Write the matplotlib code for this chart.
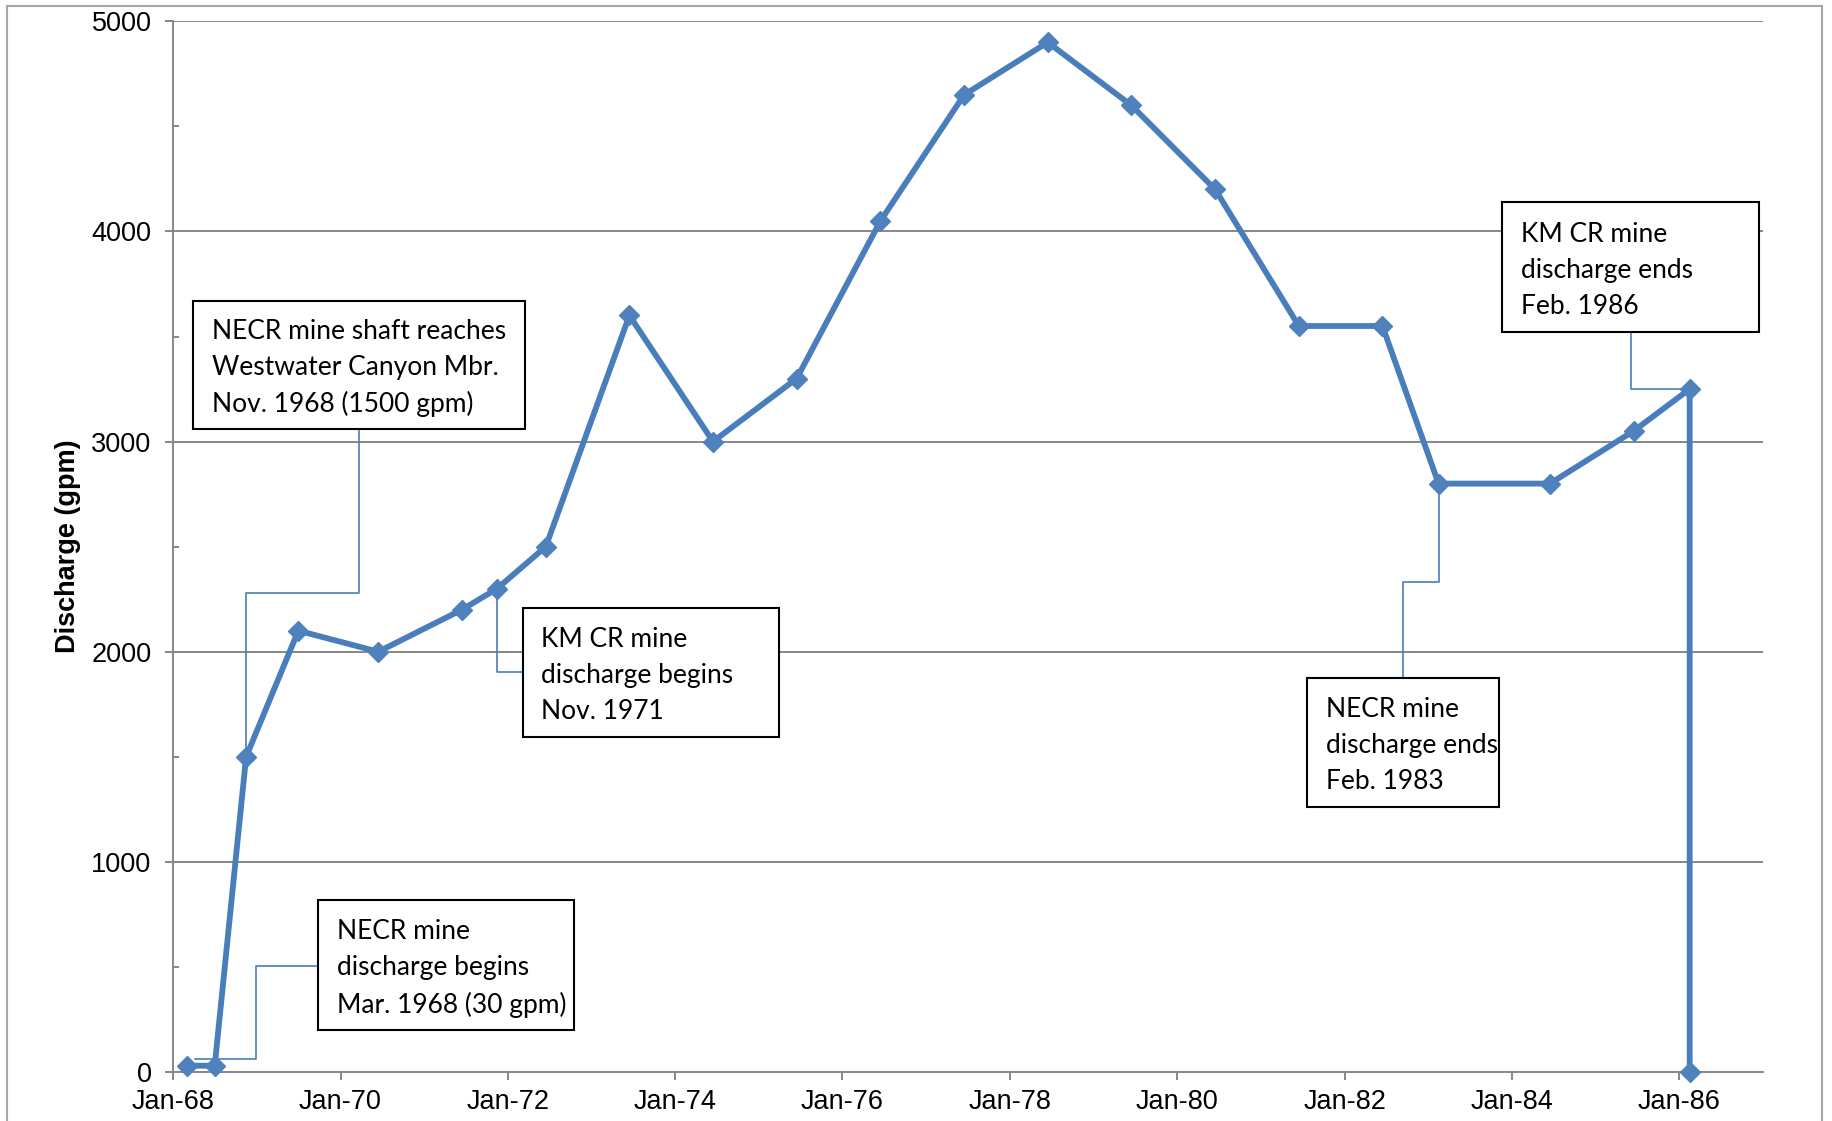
import numpy as np
import pandas as pd
import matplotlib
matplotlib.use('Agg')
import matplotlib.pyplot as plt
import matplotlib.dates as mdates
from matplotlib.patches import Rectangle
from matplotlib.ticker import MultipleLocator

# Mine dewatering discharge record
dates = pd.to_datetime([
    '1968-03-01', '1968-07-01', '1968-11-15', '1969-07-01', '1970-06-15',
    '1971-06-15', '1971-11-15', '1972-06-15', '1973-06-15', '1974-06-15',
    '1975-06-15', '1976-06-15', '1977-06-15', '1978-06-15', '1979-06-15',
    '1980-06-15', '1981-06-15', '1982-06-15', '1983-02-15', '1984-06-15',
    '1985-06-15', '1986-02-15', '1986-02-15'])
discharge = [30, 30, 1500, 2100, 2000,
             2200, 2300, 2500, 3600, 3000,
             3300, 4050, 4650, 4900, 4600,
             4200, 3550, 3550, 2800, 2800,
             3050, 3250, 0]

note_texts = [
    'NECR mine shaft reaches\nWestwater Canyon Mbr.\nNov. 1968 (1500 gpm)',
    'KM CR mine\ndischarge begins\nNov. 1971',
    'NECR mine\ndischarge begins\nMar. 1968 (30 gpm)',
    'NECR mine\ndischarge ends\nFeb. 1983',
    'KM CR mine\ndischarge ends\nFeb. 1986',
]
# index of the data point each note refers to
note_points = [2, 6, 0, 18, 21]

BLUE = '#4A7EBB'
GRID = '#878787'

fig = plt.figure(figsize=(18.33, 11.21), dpi=100)
ax = fig.add_axes([0.0944, 0.0437, 0.8674, 0.9373])

# chart area border
fig.patches.append(Rectangle((0.0038, -0.05), 0.9902, 1.0446,
                             transform=fig.transFigure, fill=False,
                             edgecolor='#A6A6A6', lw=1.5, zorder=0))

x = mdates.date2num(dates)
ax.plot(x, discharge, color=BLUE, lw=4.2, marker='D', markersize=10,
        markerfacecolor='#4F81BD', markeredgecolor='#4F81BD', zorder=5,
        clip_on=False)

ax.set_xlim(mdates.date2num(pd.Timestamp('1968-01-01')),
            mdates.date2num(pd.Timestamp('1987-01-01')))
ax.set_ylim(0, 5000)

ax.xaxis.set_major_locator(mdates.YearLocator(2, month=1, day=1))
ax.xaxis.set_major_formatter(mdates.DateFormatter('%b-%y'))
ax.yaxis.set_major_locator(MultipleLocator(1000))
ax.yaxis.set_minor_locator(MultipleLocator(500))

for s in ['top', 'right']:
    ax.spines[s].set_visible(False)
for s in ['left', 'bottom']:
    ax.spines[s].set_color(GRID)
    ax.spines[s].set_linewidth(1.4)
ax.grid(axis='y', which='major', color=GRID, lw=1.4)
ax.set_axisbelow(True)

ax.tick_params(axis='both', which='major', direction='out', length=5.5,
               width=1.4, color=GRID, labelsize=19.5, labelcolor='black')
ax.tick_params(axis='y', which='minor', direction='in', length=4,
               width=1.4, color=GRID)
ax.tick_params(axis='y', which='major', pad=10)
ax.tick_params(axis='x', which='major', pad=7)
for lbl in ax.get_xticklabels() + ax.get_yticklabels():
    lbl.set_fontfamily('Liberation Sans')

ax.set_ylabel('Discharge (gpm)', fontsize=19.5, fontweight='bold',
              fontfamily='Liberation Sans')
ax.yaxis.set_label_coords(-0.058, 0.5)

# note boxes in axes fraction: (x0, y0, x1, y1)
boxes = [
    (0.0125, 0.6118, 0.2213, 0.7341),
    (0.2199, 0.3192, 0.3809, 0.4416),
    (0.0912, 0.0400, 0.2522, 0.1635),
    (0.7132, 0.2525, 0.8338, 0.3749),
    (0.8360, 0.7041, 0.9978, 0.8276),
]


def to_axes(i):
    return ax.transLimits.transform((x[i], discharge[i]))


p = [to_axes(i) for i in note_points]
leaders = [
    [(0.1169, 0.6118), (0.1169, 0.4561), (p[0][0], 0.4561), p[0]],
    [(0.2199, 0.3804), (p[1][0], 0.3804), p[1]],
    [(0.0912, 0.1012), (0.0522, 0.1012), (0.0522, 0.0122),
     (p[2][0] + 0.005, 0.0122)],
    [(0.7735, 0.3749), (0.7735, 0.4661), (p[3][0], 0.4661), p[3]],
    [(0.9169, 0.7041), (0.9169, p[4][1]), p[4]],
]
for path in leaders:
    xs, ys = zip(*path)
    ax.plot(xs, ys, transform=ax.transAxes, color=BLUE, lw=1.2, zorder=3,
            clip_on=False)

for (x0, y0, x1, y1), txt in zip(boxes, note_texts):
    ax.add_patch(Rectangle((x0, y0), x1 - x0, y1 - y0, transform=ax.transAxes,
                           facecolor='white', edgecolor='black', lw=1.5,
                           zorder=4))
    ax.text(x0 + 0.0118, (y0 + y1) / 2 - 0.003, txt, transform=ax.transAxes,
            ha='left', va='center', fontsize=19, fontfamily='Lato',
            linespacing=1.55, zorder=6)

fig.savefig('out.png', dpi=100)
